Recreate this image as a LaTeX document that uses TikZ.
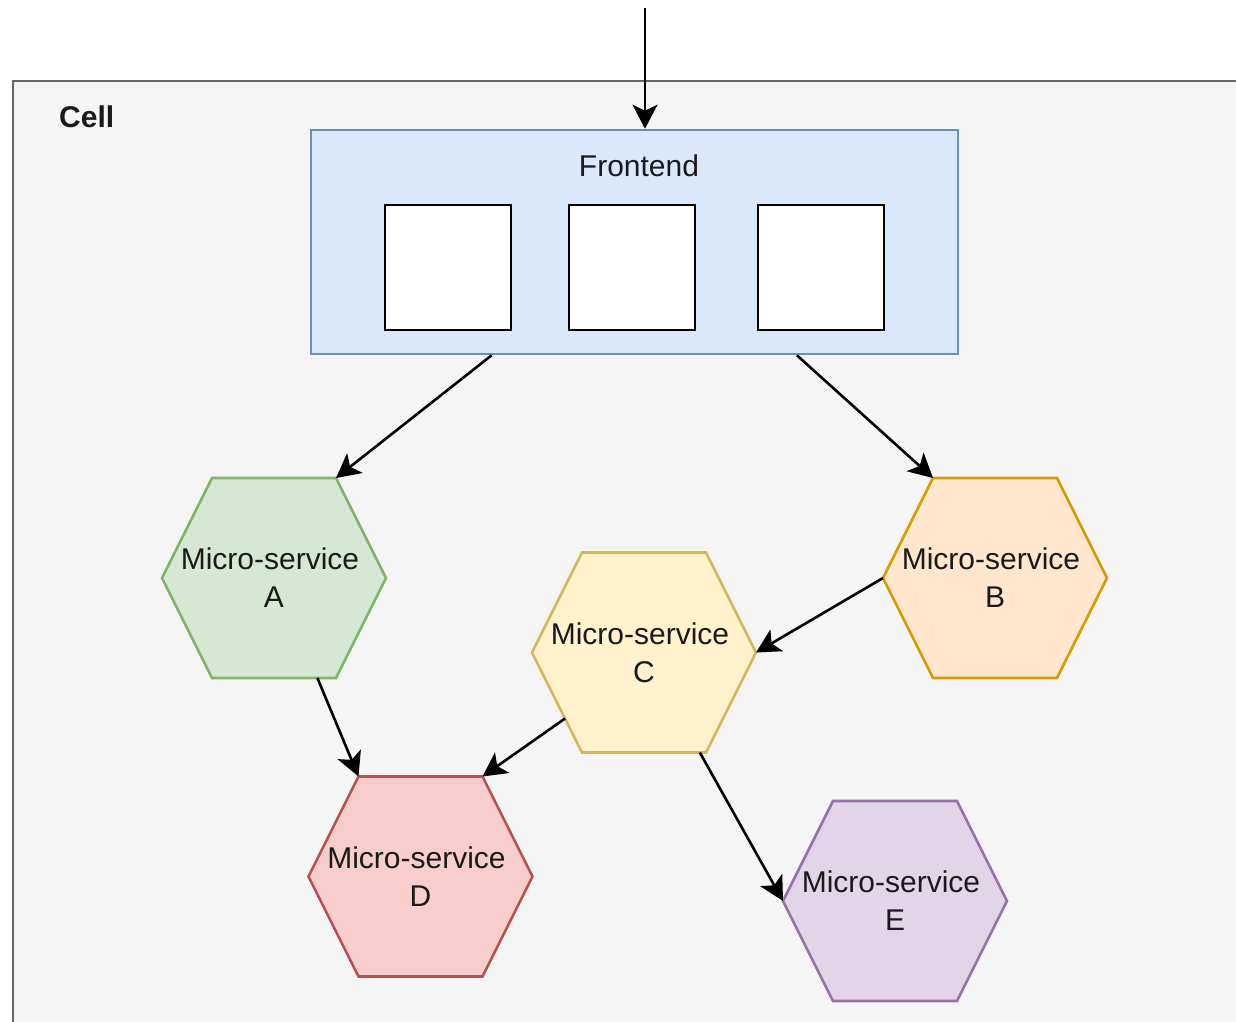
\documentclass[tikz,border=0pt]{standalone}
\usepackage{fontspec}
\setmainfont{Liberation Sans}
\usetikzlibrary{arrows.meta,calc}
\definecolor{cellfill}{HTML}{F5F5F5}
\definecolor{cellline}{HTML}{666666}
\definecolor{feFill}{HTML}{DAE8FC}
\definecolor{feLine}{HTML}{6C8EBF}
\definecolor{gFill}{HTML}{D5E8D4}
\definecolor{gLine}{HTML}{82B366}
\definecolor{oFill}{HTML}{FFE6CC}
\definecolor{oLine}{HTML}{D79B00}
\definecolor{yFill}{HTML}{FFF2CC}
\definecolor{yLine}{HTML}{D6B656}
\definecolor{rFill}{HTML}{F8CECC}
\definecolor{rLine}{HTML}{B85450}
\definecolor{pFill}{HTML}{E1D5E7}
\definecolor{pLine}{HTML}{9673A6}
\definecolor{txt}{HTML}{1A1A1A}
\newcommand\mshex[6]{%
  \coordinate (#1-l) at ({#2-112},{#3});
  \coordinate (#1-tl) at ({#2-62},{#3-100});
  \coordinate (#1-tr) at ({#2+62},{#3-100});
  \coordinate (#1-r) at ({#2+112},{#3});
  \coordinate (#1-br) at ({#2+62},{#3+100});
  \coordinate (#1-bl) at ({#2-62},{#3+100});
  \draw[hexline, fill=#4, draw=#5] (#1-l) -- (#1-tl) -- (#1-tr) -- (#1-r) -- (#1-br) -- (#1-bl) -- cycle;
  \node[hexlabel] (#1) at (#2,#3) {Micro-service\hspace*{8pt}\\#6};
}
\tikzset{
  hexline/.style={line width=2.6pt, line join=miter},
  hexlabel/.style={align=center, text=txt, inner sep=0pt, font=\fontsize{30}{38}\selectfont},
  conn/.style={line width=2.6pt, black, -{Stealth[length=24pt,width=25pt,inset=6pt]}},
  slot/.style={draw=black, fill=white, line width=2.6pt, minimum width=126pt, minimum height=125pt, inner sep=0pt},
}
\begin{document}
\begin{tikzpicture}[x=1pt,y=-1pt]
\clip (0,0) rectangle (1236,1021);
\fill[white] (0,0) rectangle (1236,1021);
% cell
\draw[fill=cellfill, draw=cellline, line width=2.6pt] (13,81) rectangle (1260,1050);
\node[anchor=west, font=\fontsize{30}{36}\selectfont\bfseries, text=txt, inner sep=0pt] (cell) at (59,117) {Cell};
% frontend
\node[draw=feLine, fill=feFill, line width=2.6pt, minimum width=647pt, minimum height=224pt, inner sep=0pt] (F) at (634.5,242) {};
\node[font=\fontsize{30}{36}\selectfont, text=txt, inner sep=0pt] (Flabel) at (639,166) {Frontend};
\node[slot] (s1) at (448,267.5) {};
\node[slot] (s2) at (632,267.5) {};
\node[slot] (s3) at (821,267.5) {};
% hexagons
\mshex{A}{274}{578}{gFill}{gLine}{A}
\mshex{B}{995}{578}{oFill}{oLine}{B}
\mshex{C}{644}{652.5}{yFill}{yLine}{C}
\mshex{D}{420.5}{876.5}{rFill}{rLine}{D}
\mshex{E}{895}{901}{pFill}{pLine}{E}
% connectors
\coordinate (in) at (645,8);
\draw[conn] (in) -- (in|-F.north);
\draw[conn] ($(F.south west)!0.28!(F.south east)$) -- (A-tr);
\draw[conn] ($(F.south west)!0.75!(F.south east)$) -- (B-tl);
\draw[conn] (B-l) -- (C-r);
\draw[conn] ($(A-bl)!0.85!(A-br)$) -- (D-tl);
\draw[conn] ($(C-l)!0.66!(C-bl)$) -- (D-tr);
\draw[conn] ($(C-bl)!0.95!(C-br)$) -- (E-l);
\end{tikzpicture}
\end{document}
